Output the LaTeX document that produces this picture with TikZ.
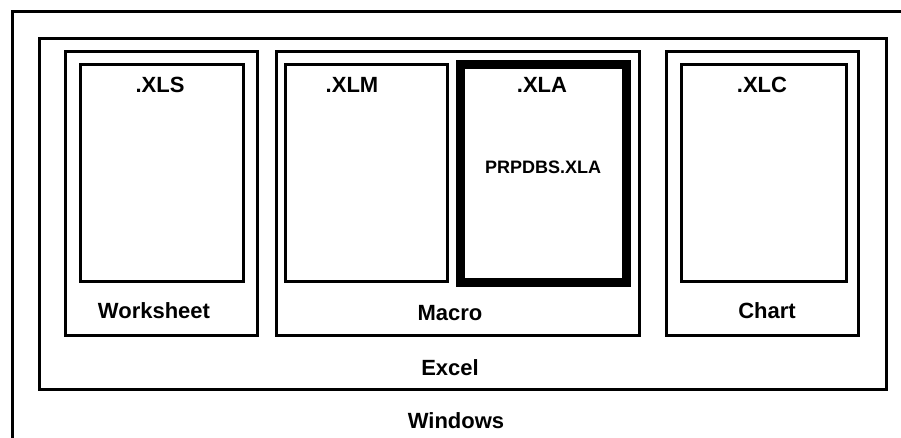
\documentclass[tikz,border=0pt]{standalone}
\usepackage{fontspec}
\setmainfont{Liberation Sans}
\usepackage{tikz}

\tikzset{
  box/.style={draw=black,line width=3pt},
  thickbox/.style={draw=black,line width=9pt},
  lbl/.style={inner sep=0pt,font=\fontsize{22}{24}\selectfont\bfseries},
  smalllbl/.style={inner sep=0pt,font=\fontsize{18}{20}\selectfont\bfseries}
}

\begin{document}
\begin{tikzpicture}[x=1pt,y=-1pt]
  \useasboundingbox (0,0) rectangle (901,438);
  \clip (0,0) rectangle (901,438);
  % Windows, Excel and the three windows
  \draw[box] (12,12) rectangle (915,450);
  \draw[box] (39,39) rectangle (886,389);
  \draw[box] (65,52) rectangle (257,335);
  \draw[box] (276,52) rectangle (639,335);
  \draw[box] (666,52) rectangle (858,335);
  % files
  \draw[box] (80,65) rectangle (243,281);
  \draw[box] (285,65) rectangle (447,281);
  \draw[thickbox] (460,65) rectangle (626,282);
  \draw[box] (681,65) rectangle (846,281);
  % labels
  \node[lbl] (xls) at (160,85) {.XLS};
  \node[lbl] (xlm) at (352,85) {.XLM};
  \node[lbl] (xla) at (542,85) {.XLA};
  \node[lbl] (xlc) at (762,85) {.XLC};
  \node[smalllbl] (prpdbs) at (543,167) {PRPDBS.XLA};
  \node[lbl] (worksheet) at (154,311) {Worksheet};
  \node[lbl] (macro) at (450,313) {Macro};
  \node[lbl] (chart) at (767,311) {Chart};
  \node[lbl] (excel) at (450,368) {Excel};
  \node[lbl] (windows) at (456,421) {Windows};
\end{tikzpicture}
\end{document}
